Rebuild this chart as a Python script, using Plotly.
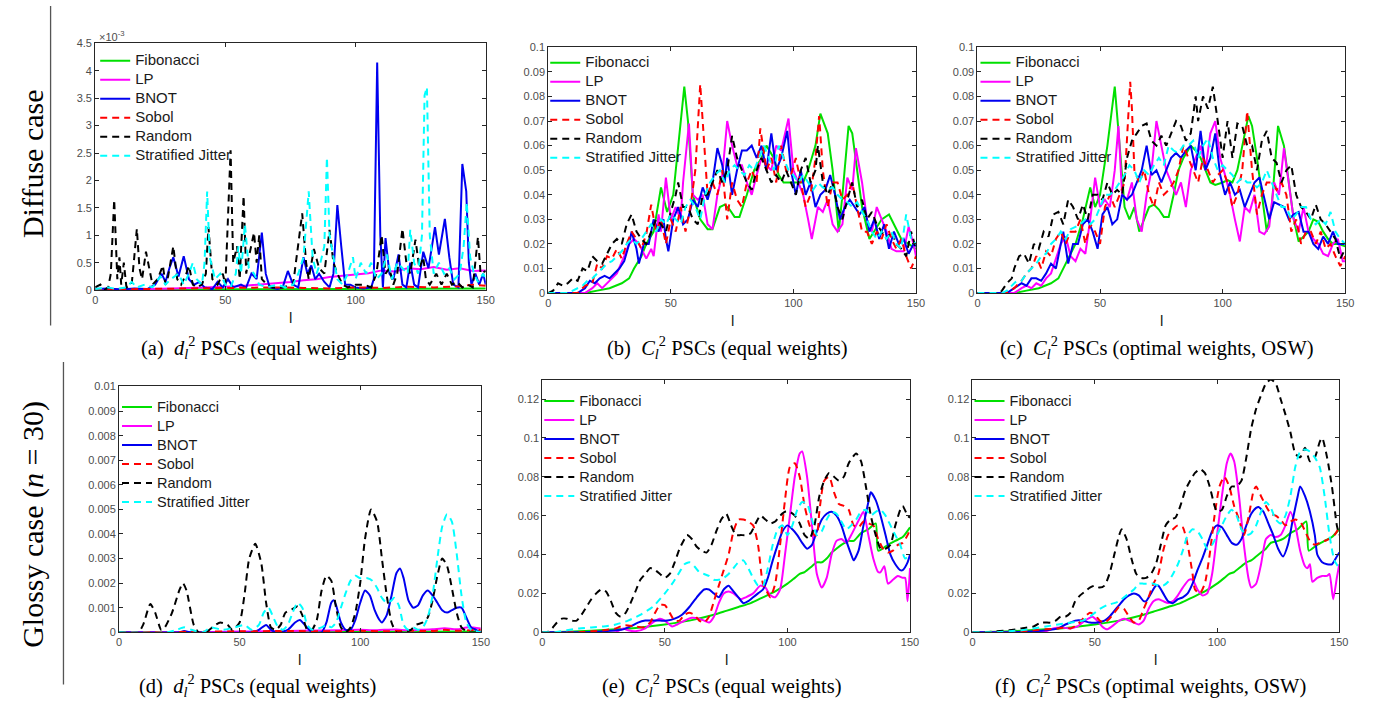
import plotly.graph_objects as go

W, H = 1380, 713

SERIES = ["Fibonacci", "LP", "BNOT", "Sobol", "Random", "Stratified Jitter"]
COLORS = ["#00e000", "#ff00ff", "#0000f0", "#ff0000", "#000000", "#00ffff"]
DASHES = ["solid", "solid", "solid", "7px,5px", "7px,5px", "7px,5px"]

X_TICKS = [0, 50, 100, 150]
A_YTICKS = [0, 0.5, 1, 1.5, 2, 2.5, 3, 3.5, 4, 4.5]
A_YTEXT = ["0", "0.5", "1", "1.5", "2", "2.5", "3", "3.5", "4", "4.5"]
BC_YTICKS = [0, 0.01, 0.02, 0.03, 0.04, 0.05, 0.06, 0.07, 0.08, 0.09, 0.1]
BC_YTEXT = ["0", "0.01", "0.02", "0.03", "0.04", "0.05", "0.06", "0.07", "0.08", "0.09", "0.1"]
D_YTICKS = [0, 0.001, 0.002, 0.003, 0.004, 0.005, 0.006, 0.007, 0.008, 0.009, 0.01]
D_YTEXT = ["0", "0.001", "0.002", "0.003", "0.004", "0.005", "0.006", "0.007", "0.008", "0.009", "0.01"]
EF_YTICKS = [0, 0.02, 0.04, 0.06, 0.08, 0.1, 0.12]
EF_YTEXT = ["0", "0.02", "0.04", "0.06", "0.08", "0.1", "0.12"]

# ---------------- panel (a): d_l^2 diffuse, values in units of 1e-3 ----------------
A_FIB = [(0, 0.01), (20, 0.01), (40, 0.015), (60, 0.015), (80, 0.02), (100, 0.02), (120, 0.025), (140, 0.03), (150, 0.03)]
A_LP = [(0, 0.01), (10, 0.01), (20, 0.02), (30, 0.03), (40, 0.04), (45, 0.05), (50, 0.06), (55, 0.07), (60, 0.09), (65, 0.1),
        (70, 0.13), (75, 0.15), (80, 0.18), (85, 0.2), (90, 0.24), (95, 0.26), (100, 0.28), (105, 0.31), (110, 0.36), (115, 0.34),
        (120, 0.4), (125, 0.38), (130, 0.42), (135, 0.37), (140, 0.4), (145, 0.35), (150, 0.36)]
A_BNOT = [(0, 0.02), (5, 0.03), (10, 0.01), (15, 0.03), (20, 0.02), (23, 0.1), (25.5, 0.3), (27, 0.15), (28.5, 0.4), (30, 0.6),
          (32, 0.25), (34, 0.62), (36, 0.2), (38, 0.1), (40, 0.15), (42, 0.05), (45, 0.02), (47, 0.15), (49, 0.05), (51, 0.2),
          (53, 0.05), (56, 0.1), (58, 0.05), (60, 0.3), (62, 0.2), (64, 1.05), (65.5, 0.3), (67, 0.05), (70, 0.02), (72, 0.05),
          (74, 0.35), (76, 0.1), (78, 0.05), (80, 0.6), (81.5, 0.3), (83, 0.45), (84.5, 0.2), (86, 0.3), (88, 0.15), (90, 0.05),
          (91.5, 0.3), (93, 1.55), (94.5, 0.8), (96, 0.1), (98, 0.1), (100, 0.05), (103, 0.03), (106, 0.05), (107, 0.2),
          (108.3, 4.15), (109.5, 1.0), (110.5, 0.05), (111.5, 0.95), (113, 0.3), (114.5, 0.2), (116.5, 0.65), (118, 0.1),
          (119.5, 0.05), (121, 0.5), (122.5, 0.1), (124, 0.05), (126, 0.7), (128, 0.4), (130.5, 1.15), (132, 0.65),
          (134.3, 1.3), (136, 0.6), (137.5, 0.1), (139.5, 0.05), (141, 2.3), (142.5, 1.8), (143.5, 0.5), (144.5, 0.1),
          (146, 0.3), (147.5, 0.1), (149, 0.3), (150, 0.1)]
A_SOB = [(0, 0.01), (20, 0.02), (40, 0.03), (60, 0.04), (70, 0.05), (80, 0.04), (90, 0.03), (100, 0.05), (110, 0.04),
         (120, 0.06), (130, 0.05), (140, 0.07), (145, 0.1), (150, 0.08)]
A_RND = [(0, 0.05), (2, 0.1), (3.5, 0.0), (5, 0.05), (6, 0.3), (7.3, 1.65), (8.5, 0.2), (9.3, 0.6), (10, 0.1), (11, 0.5),
         (12, 0.05), (14, 0.1), (15, 0.6), (16, 1.12), (17, 0.4), (18, 0.2), (19.5, 0.7), (21, 0.3), (22, 0.1), (24, 0.2),
         (26, 0.45), (27, 0.1), (28, 0.25), (30, 0.8), (31.5, 0.2), (33, 0.1), (35, 0.3), (36, 0.45), (37.5, 0.1), (39, 0.05),
         (41, 0.1), (42.5, 0.3), (43.5, 1.15), (45, 0.2), (47, 0.1), (49, 0.3), (50, 0.1), (52, 2.55), (53, 0.5), (54.5, 0.8),
         (55.5, 0.2), (57, 1.72), (58, 0.3), (59, 0.6), (61, 1.05), (62, 0.5), (63, 1.0), (64, 0.2), (66, 0.1), (68, 0.05),
         (72, 0.05), (76, 0.1), (78, 0.8), (79.5, 1.4), (81, 0.5), (82, 0.2), (84, 0.75), (86, 0.4), (88, 0.3), (90, 1.1),
         (91.5, 0.5), (93, 0.3), (95, 0.1), (97, 0.05), (100, 0.1), (103, 0.1), (106, 0.05), (108, 0.3), (110, 1.0),
         (111.5, 0.3), (113, 0.4), (114.5, 0.1), (116, 0.3), (118, 1.12), (119.5, 0.5), (121, 0.3), (123, 0.92), (124.5, 0.4),
         (126, 0.6), (127, 0.2), (128.5, 0.1), (131, 0.3), (133, 0.1), (135, 0.3), (137, 0.1), (139, 0.15), (141, 0.05),
         (143, 0.1), (145, 0.05), (147, 0.97), (148, 0.3), (150, 0.35)]
A_SJ = [(0, 0.02), (5, 0.05), (8, 0.02), (12, 0.05), (14, 0.15), (16, 0.05), (19, 0.1), (22, 0.05), (25, 0.25), (27, 0.1),
        (29, 0.2), (32, 0.3), (34, 0.1), (36, 0.3), (37.5, 0.5), (39, 0.2), (41, 0.1), (42, 0.5), (43, 1.8), (44, 0.6),
        (46, 0.2), (48, 0.3), (50, 0.1), (52, 0.05), (54, 0.3), (55, 0.8), (56, 0.3), (57.5, 1.2), (59, 0.4), (61, 0.3),
        (63, 0.1), (66, 0.05), (70, 0.1), (73, 0.05), (76, 0.1), (78, 0.3), (80, 0.6), (82, 1.8), (83.5, 0.6), (85, 0.3),
        (86.5, 0.5), (88, 0.8), (89, 2.42), (90, 1.0), (91.5, 0.6), (93, 0.2), (95, 0.1), (97, 0.3), (99, 0.6), (100, 0.2),
        (102, 0.5), (104, 0.3), (106, 0.5), (108, 0.2), (110, 0.3), (112, 0.65), (114, 0.2), (116, 0.5), (118, 0.4),
        (120, 0.3), (121, 1.1), (122.5, 0.5), (124, 0.3), (125.5, 1.0), (126.5, 3.55), (127.4, 3.7), (128.5, 1.0),
        (130, 0.3), (132, 0.5), (134, 0.3), (136, 0.4), (138, 0.2), (140, 0.3), (141.5, 0.8), (142.7, 1.6), (144, 0.6),
        (145.5, 0.3), (147, 0.15), (149, 0.3), (150, 0.2)]

# ---------------- panel (b): C_l^2 diffuse, equal weights ----------------
B_FIB = [(0, 0), (15, 0), (20, 0.001), (25, 0.002), (30, 0.004), (33, 0.006), (35, 0.01), (38, 0.015), (40, 0.02), (43, 0.025),
         (46, 0.043), (48.5, 0.033), (51, 0.04), (53, 0.06), (55.5, 0.084), (57, 0.07), (59, 0.04), (62, 0.03), (65, 0.026),
         (67, 0.026), (70, 0.035), (72, 0.036), (74, 0.034), (76, 0.031), (78, 0.031), (81, 0.04), (84, 0.05), (87, 0.055),
         (89, 0.06), (92, 0.055), (94, 0.048), (96, 0.045), (100, 0.045), (104, 0.045), (106, 0.05), (109, 0.06), (111, 0.073),
         (114, 0.065), (116, 0.05), (118.5, 0.025), (120, 0.04), (122.5, 0.068), (124, 0.065), (126, 0.05), (128, 0.035),
         (131, 0.022), (133, 0.025), (136, 0.03), (139, 0.032), (141, 0.028), (144, 0.022), (147, 0.02), (150, 0.018)]
B_LP = [(0, 0), (15, 0), (18, 0.002), (20, 0.004), (22, 0.002), (25, 0.005), (28, 0.008), (31, 0.015), (33, 0.02), (35, 0.022),
        (37, 0.02), (40, 0.014), (42, 0.018), (43, 0.015), (45, 0.032), (46, 0.025), (48, 0.047), (50, 0.03), (52, 0.035),
        (54, 0.03), (55, 0.045), (57.4, 0.069), (59, 0.04), (61, 0.038), (63, 0.04), (65, 0.028), (67, 0.026), (69, 0.04),
        (71, 0.048), (73, 0.07), (75, 0.06), (77, 0.052), (79, 0.052), (81, 0.045), (83, 0.04), (85, 0.048), (87, 0.055),
        (89, 0.052), (91, 0.05), (93, 0.06), (95, 0.058), (98, 0.071), (100, 0.05), (102, 0.045), (104, 0.04), (106, 0.03),
        (107.5, 0.022), (110, 0.035), (112, 0.033), (114, 0.038), (116, 0.028), (118, 0.025), (120, 0.028), (122, 0.047),
        (124, 0.042), (125.5, 0.059), (128, 0.045), (130, 0.03), (132, 0.025), (134, 0.035), (136, 0.03), (138, 0.025),
        (140, 0.018), (142, 0.017), (145, 0.017), (147, 0.027), (149, 0.02), (150, 0.015)]
B_BNOT = [(0, 0), (12, 0), (15, 0.002), (17, 0.005), (19, 0.004), (21, 0.006), (23, 0.007), (25, 0.006), (27, 0.008), (29, 0.01),
          (31, 0.013), (33, 0.02), (34, 0.025), (36, 0.018), (37, 0.012), (39, 0.02), (41, 0.02), (43, 0.03), (45, 0.025),
          (47, 0.03), (48, 0.022), (49, 0.017), (51, 0.03), (53, 0.035), (55, 0.028), (57, 0.03), (59, 0.038), (61, 0.035),
          (63, 0.043), (65, 0.038), (67, 0.045), (69, 0.059), (71, 0.052), (72, 0.045), (73, 0.055), (75, 0.04), (77, 0.05),
          (79, 0.058), (81, 0.058), (83, 0.06), (85, 0.055), (87, 0.06), (89, 0.05), (91, 0.065), (93, 0.05), (95, 0.055),
          (97.5, 0.066), (99, 0.05), (101, 0.04), (103, 0.05), (105, 0.04), (107, 0.045), (109, 0.035), (111, 0.04),
          (113, 0.042), (115, 0.048), (117, 0.04), (119, 0.03), (121, 0.035), (123, 0.038), (125, 0.035), (127, 0.032),
          (129, 0.035), (131, 0.025), (133, 0.03), (135, 0.022), (137, 0.028), (139, 0.018), (141, 0.025), (143, 0.02),
          (145, 0.022), (147, 0.016), (149, 0.02), (150, 0.019)]
B_SOB = [(0, 0), (12, 0), (15, 0.003), (18, 0.004), (20, 0.012), (22, 0.01), (24, 0.015), (26, 0.014), (28, 0.018), (30, 0.014),
         (32, 0.02), (34, 0.025), (36, 0.022), (38, 0.018), (40, 0.024), (42, 0.036), (44, 0.025), (46, 0.03), (48, 0.02),
         (50, 0.03), (52, 0.025), (54, 0.035), (56, 0.025), (58, 0.035), (60, 0.05), (62, 0.085), (63, 0.07), (65, 0.04),
         (67, 0.045), (69, 0.04), (71, 0.05), (73, 0.03), (75, 0.045), (77, 0.038), (79, 0.035), (81, 0.045), (83, 0.05),
         (85, 0.045), (86.5, 0.067), (89, 0.05), (91, 0.055), (93, 0.045), (95, 0.06), (97, 0.05), (99, 0.048), (101, 0.055),
         (103, 0.045), (105, 0.035), (107, 0.04), (109, 0.055), (110.5, 0.072), (112, 0.05), (114, 0.035), (116, 0.045),
         (118, 0.045), (120, 0.038), (122, 0.04), (124, 0.045), (126, 0.035), (128, 0.025), (130, 0.025), (132, 0.02),
         (134, 0.025), (136, 0.022), (138, 0.028), (140, 0.022), (142, 0.018), (144, 0.022), (146, 0.015), (148, 0.01),
         (150, 0.015)]
B_RND = [(0, 0), (2, 0.001), (4, 0.004), (6, 0.003), (8, 0.004), (10, 0.006), (12, 0.005), (14, 0.01), (16, 0.009), (18, 0.015),
         (20, 0.013), (22, 0.012), (24, 0.016), (26, 0.02), (28, 0.022), (30, 0.02), (32, 0.028), (34, 0.032), (36, 0.025),
         (38, 0.022), (40, 0.02), (42, 0.025), (44, 0.03), (46, 0.028), (48, 0.025), (50, 0.033), (52, 0.04), (53, 0.045),
         (55, 0.035), (57, 0.035), (59, 0.03), (61, 0.028), (63, 0.04), (65, 0.04), (67, 0.045), (69, 0.05), (71, 0.045),
         (73, 0.05), (75, 0.064), (77, 0.055), (79, 0.05), (81, 0.045), (83, 0.042), (85, 0.05), (87, 0.055), (89, 0.05),
         (91, 0.045), (93, 0.048), (95, 0.045), (97, 0.05), (99, 0.045), (101, 0.04), (103, 0.05), (105, 0.055), (107, 0.045),
         (109, 0.05), (110, 0.06), (112, 0.045), (114, 0.04), (116, 0.045), (118, 0.035), (120, 0.03), (122, 0.038),
         (124, 0.045), (126, 0.035), (128, 0.038), (130, 0.03), (132, 0.033), (134, 0.028), (136, 0.025), (138, 0.022),
         (140, 0.025), (142, 0.02), (144, 0.018), (146, 0.015), (148, 0.025), (150, 0.018)]
B_SJ = [(0, 0), (8, 0), (10, 0.001), (12, 0.002), (14, 0.003), (16, 0.005), (18, 0.006), (20, 0.008), (22, 0.01), (24, 0.012),
        (26, 0.013), (28, 0.015), (30, 0.017), (32, 0.02), (34, 0.022), (36, 0.02), (38, 0.022), (40, 0.025), (42, 0.028),
        (44, 0.025), (46, 0.03), (48, 0.028), (50, 0.032), (52, 0.03), (54, 0.028), (56, 0.035), (58, 0.038), (60, 0.035),
        (62, 0.03), (64, 0.04), (66, 0.045), (68, 0.048), (70, 0.05), (72, 0.045), (74, 0.05), (76, 0.052), (78, 0.05),
        (80, 0.048), (82, 0.052), (84, 0.05), (86, 0.055), (88, 0.06), (90, 0.055), (92, 0.05), (94, 0.06), (96, 0.055),
        (98, 0.05), (100, 0.048), (102, 0.045), (104, 0.048), (106, 0.045), (108, 0.042), (110, 0.045), (112, 0.043),
        (114, 0.042), (116, 0.043), (118, 0.04), (120, 0.038), (122, 0.037), (124, 0.035), (126, 0.037), (128, 0.033),
        (130, 0.03), (132, 0.025), (134, 0.022), (136, 0.025), (138, 0.022), (140, 0.025), (142, 0.02), (144, 0.018),
        (146, 0.032), (148, 0.022), (150, 0.02)]

# ---------------- panel (c): C_l^2 diffuse, optimal weights ----------------
C_FIB = [(0, 0), (15, 0), (20, 0.001), (25, 0.002), (30, 0.004), (33, 0.006), (36, 0.012), (40, 0.02), (43, 0.03), (46, 0.043),
         (48, 0.035), (50, 0.04), (53, 0.06), (56, 0.084), (58, 0.06), (60, 0.035), (62, 0.03), (64, 0.035), (66, 0.025),
         (68, 0.03), (70, 0.035), (72, 0.036), (74, 0.034), (76, 0.031), (78, 0.031), (80, 0.04), (82, 0.05), (84, 0.055),
         (87, 0.06), (89, 0.058), (91, 0.055), (93, 0.05), (95, 0.045), (97, 0.044), (100, 0.045), (102, 0.046), (104, 0.045),
         (106, 0.05), (108, 0.06), (110.5, 0.072), (112, 0.068), (114, 0.055), (116, 0.04), (118, 0.025), (120, 0.035),
         (122.6, 0.068), (125, 0.06), (127, 0.045), (129, 0.03), (131, 0.021), (133, 0.023), (135, 0.025), (137, 0.03),
         (139, 0.029), (141, 0.025), (143, 0.022), (145, 0.02), (147, 0.02), (150, 0.019)]
C_LP = [(0, 0), (15, 0), (18, 0.002), (20, 0.003), (22, 0.002), (24, 0.004), (26, 0.003), (28, 0.006), (30, 0.008), (32, 0.014),
        (34, 0.02), (36, 0.023), (38, 0.015), (40, 0.013), (42, 0.018), (44, 0.016), (46, 0.03), (48, 0.047), (50, 0.035),
        (52, 0.038), (54, 0.035), (56, 0.05), (57.5, 0.068), (59, 0.04), (61, 0.038), (63, 0.045), (65, 0.03), (67, 0.025),
        (69, 0.04), (71, 0.05), (73, 0.07), (75, 0.06), (77, 0.05), (79, 0.045), (81, 0.04), (83, 0.045), (85, 0.035),
        (87, 0.05), (89, 0.055), (91, 0.06), (93, 0.05), (95, 0.065), (97, 0.07), (99, 0.055), (101, 0.048), (103, 0.04),
        (105, 0.03), (107, 0.021), (109, 0.035), (111, 0.033), (113, 0.04), (115, 0.025), (117, 0.024), (119, 0.027),
        (121, 0.045), (123, 0.04), (125, 0.059), (127, 0.045), (129, 0.03), (131, 0.025), (133, 0.035), (135, 0.025),
        (137, 0.022), (139, 0.02), (141, 0.016), (143, 0.015), (145, 0.02), (147, 0.022), (149, 0.013), (150, 0.013)]
C_BNOT = [(0, 0), (12, 0), (15, 0.002), (18, 0.004), (20, 0.003), (22, 0.006), (24, 0.006), (26, 0.005), (28, 0.008), (30, 0.012),
          (32, 0.01), (34, 0.02), (35, 0.025), (37, 0.012), (39, 0.02), (41, 0.02), (43, 0.028), (45, 0.03), (47, 0.025),
          (49, 0.018), (51, 0.032), (53, 0.035), (55, 0.028), (57, 0.03), (59, 0.04), (61, 0.038), (63, 0.04), (65, 0.045),
          (67, 0.05), (69, 0.06), (71, 0.048), (73, 0.05), (75, 0.045), (77, 0.05), (79, 0.055), (81, 0.057), (83, 0.055),
          (85, 0.058), (87, 0.06), (89, 0.05), (91, 0.066), (93, 0.05), (95, 0.055), (97, 0.065), (99, 0.048), (101, 0.04),
          (103, 0.045), (105, 0.04), (107, 0.042), (109, 0.035), (111, 0.04), (113, 0.045), (115, 0.047), (117, 0.038),
          (119, 0.03), (121, 0.037), (123, 0.036), (125, 0.035), (127, 0.03), (129, 0.032), (131, 0.033), (133, 0.025),
          (135, 0.025), (137, 0.02), (139, 0.018), (141, 0.023), (143, 0.02), (145, 0.025), (147, 0.02), (150, 0.02)]
C_SOB = [(0, 0), (12, 0), (15, 0.002), (18, 0.005), (20, 0.008), (22, 0.01), (24, 0.015), (26, 0.01), (28, 0.017), (30, 0.015),
         (32, 0.022), (34, 0.025), (36, 0.02), (38, 0.025), (40, 0.025), (42, 0.03), (44, 0.02), (46, 0.028), (48, 0.025),
         (50, 0.02), (52, 0.035), (54, 0.04), (56, 0.035), (58, 0.04), (60, 0.045), (62.3, 0.086), (63, 0.075), (64, 0.05),
         (66, 0.045), (68, 0.05), (70, 0.04), (72, 0.035), (74, 0.045), (76, 0.04), (78, 0.042), (80, 0.045), (82, 0.05),
         (84, 0.06), (86, 0.055), (88, 0.05), (90, 0.045), (92, 0.055), (94, 0.05), (96, 0.045), (98, 0.048), (100, 0.05),
         (102, 0.045), (104, 0.035), (106, 0.04), (108, 0.05), (110, 0.074), (112, 0.05), (114, 0.032), (116, 0.04),
         (118, 0.045), (120, 0.045), (122, 0.042), (124, 0.045), (126, 0.04), (128, 0.025), (130, 0.03), (132, 0.02),
         (134, 0.025), (136, 0.025), (138, 0.02), (140, 0.025), (142, 0.018), (144, 0.02), (146, 0.015), (148, 0.011),
         (150, 0.015)]
C_RND = [(0, 0), (9, 0), (10, 0.001), (12, 0.004), (14, 0.006), (15, 0.01), (17, 0.015), (19, 0.016), (21, 0.012), (23, 0.02),
         (25, 0.018), (27, 0.025), (29, 0.023), (31, 0.032), (33, 0.033), (35, 0.028), (37, 0.038), (39, 0.035), (41, 0.03),
         (43, 0.036), (45, 0.03), (47, 0.04), (49, 0.04), (51, 0.038), (53, 0.045), (55, 0.04), (57, 0.042), (59, 0.04),
         (61, 0.055), (63, 0.062), (65, 0.065), (67, 0.068), (69, 0.069), (71, 0.062), (73, 0.06), (75, 0.064), (77, 0.06),
         (79, 0.065), (81, 0.07), (83, 0.068), (85, 0.062), (87, 0.065), (89, 0.08), (90, 0.07), (92, 0.08), (94, 0.075),
         (96, 0.084), (98, 0.07), (100, 0.055), (102, 0.07), (104, 0.055), (106, 0.069), (108, 0.068), (110, 0.06),
         (112, 0.06), (114, 0.05), (116, 0.062), (118, 0.066), (120, 0.055), (122, 0.053), (124, 0.045), (126, 0.05),
         (128, 0.052), (130, 0.04), (132, 0.035), (134, 0.033), (136, 0.03), (138, 0.036), (140, 0.03), (142, 0.028),
         (144, 0.025), (146, 0.022), (148, 0.014), (150, 0.018)]
C_SJ = [(0, 0), (10, 0), (12, 0.001), (14, 0.003), (16, 0.005), (18, 0.005), (20, 0.008), (22, 0.01), (24, 0.012), (26, 0.015),
        (28, 0.016), (30, 0.02), (32, 0.022), (34, 0.025), (36, 0.022), (38, 0.026), (40, 0.027), (42, 0.028), (44, 0.03),
        (46, 0.028), (48, 0.03), (50, 0.035), (52, 0.04), (54, 0.04), (56, 0.042), (58, 0.045), (60, 0.048), (62, 0.052),
        (64, 0.05), (66, 0.045), (68, 0.05), (70, 0.048), (72, 0.052), (74, 0.055), (76, 0.052), (78, 0.06), (80, 0.058),
        (82, 0.057), (84, 0.06), (86, 0.06), (88, 0.062), (90, 0.055), (92, 0.06), (94, 0.063), (96, 0.055), (98, 0.05),
        (100, 0.052), (102, 0.05), (104, 0.048), (106, 0.045), (108, 0.047), (110, 0.045), (112, 0.045), (114, 0.043),
        (116, 0.045), (118, 0.05), (120, 0.045), (122, 0.04), (124, 0.035), (126, 0.035), (128, 0.03), (130, 0.032),
        (132, 0.035), (134, 0.035), (136, 0.03), (138, 0.028), (140, 0.03), (142, 0.028), (144, 0.033), (146, 0.025),
        (148, 0.022), (150, 0.02)]

# ---------------- panel (d): d_l^2 glossy ----------------
D_FIB = [(0, 0), (50, 0.00001), (100, 0.00002), (150, 0.00003)]
D_LP = [(0, 0), (40, 0.00001), (50, 0.00003), (60, 0.00004), (70, 0.00005), (80, 0.00007), (90, 0.00008), (100, 0.0001),
        (105, 0.00008), (110, 0.0001), (115, 0.00011), (120, 0.00008), (125, 0.0001), (130, 0.00012), (135, 0.00016),
        (140, 0.00012), (145, 0.0002), (150, 0.00015)]
D_BNOT = [(0, 0), (25, 0), (27, 0.00005), (30, 0), (55, 0), (58, 0.0001), (61, 0.0003), (63, 0.0001), (66, 0), (70, 0.0001),
          (73, 0.0004), (75, 0.0005), (77, 0.0003), (80, 0), (84, 0), (86, 0.0004), (88, 0.0012), (89, 0.0013), (90, 0.0011),
          (92, 0.0004), (94, 0.0001), (96, 0.0001), (98, 0.0005), (100, 0.0012), (102, 0.0017), (104, 0.0015), (106, 0.0009),
          (108, 0.0005), (109, 0.0004), (111, 0.0007), (113, 0.0015), (115, 0.0024), (116.5, 0.0026), (118, 0.0022),
          (120, 0.0013), (122, 0.001), (124, 0.0011), (126, 0.0015), (128, 0.0017), (130, 0.0015), (132, 0.0012),
          (134, 0.0009), (136, 0.0008), (138, 0.0009), (140, 0.001), (142, 0.001), (144, 0.0006), (146, 0.0002),
          (148, 0.0001), (150, 0)]
D_SOB = [(0, 0), (30, 0.00002), (50, 0.00004), (70, 0.00005), (90, 0.00004), (100, 0.00006), (110, 0.00004), (120, 0.00006),
         (130, 0.00005), (135, 0.0001), (140, 0.00006), (145, 0.00008), (150, 0.0001)]
D_RND = [(0, 0), (8, 0), (10, 0.0003), (13, 0.00115), (15, 0.0008), (17.5, 0.0001), (19, 0.0002), (22, 0.0008), (25, 0.0017),
         (26.5, 0.002), (28, 0.0017), (31, 0.0003), (33, 0), (36, 0), (40, 0.0003), (42, 0.0004), (45, 0.0003), (47, 0.0001),
         (50, 0.0004), (52, 0.0015), (54, 0.003), (56.5, 0.0036), (59, 0.0028), (61, 0.0012), (63, 0.0002), (65, 0.0001),
         (67, 0.0003), (69, 0.0008), (72, 0.00095), (74, 0.00105), (76, 0.0007), (78, 0.0001), (80, 0.0001), (82, 0.0005),
         (84, 0.0017), (86, 0.0023), (88, 0.0021), (90, 0.001), (92, 0.0002), (94, 0), (96, 0.0002), (98, 0.0008),
         (100, 0.002), (102, 0.0038), (104.5, 0.005), (107, 0.0045), (109, 0.003), (111, 0.0015), (113, 0.0004), (115, 0),
         (118, 0), (121, 0.0001), (123, 0.0003), (126, 0.0004), (128, 0.0006), (130, 0.0013), (132, 0.0023), (134, 0.003),
         (136, 0.0027), (138, 0.0018), (140, 0.0008), (142, 0.0002), (145, 0), (150, 0)]
D_SJ = [(0, 0), (20, 0), (24, 0.0001), (27, 0.0002), (30, 0.0001), (35, 0), (38, 0.0002), (43, 0.0001), (48, 0.0002),
        (52, 0.0003), (55, 0.0001), (58, 0.0003), (60, 0.0008), (62, 0.001), (64, 0.0006), (66, 0.0002), (68, 0.0001),
        (70, 0.0003), (72, 0.0008), (74, 0.0012), (76, 0.001), (78, 0.0003), (80, 0.0001), (84, 0.0002), (86, 0.0003),
        (88, 0.0002), (90, 0.0004), (92, 0.001), (94, 0.0016), (96, 0.0021), (98, 0.0023), (100, 0.0022), (103, 0.0022),
        (105, 0.0021), (107, 0.0018), (109, 0.0014), (111, 0.0012), (113, 0.0013), (114, 0.0014), (116, 0.0011),
        (118, 0.0003), (120, 0.0001), (122, 0.0002), (124, 0.0001), (126, 0.0002), (128, 0.0006), (130, 0.0015),
        (132, 0.003), (134, 0.0043), (136, 0.0048), (138, 0.0045), (140, 0.0032), (142, 0.0015), (144, 0.0004),
        (146, 0.0001), (150, 0)]

# ---------------- panel (e): C_l^2 glossy, equal weights ----------------
E_FIB = [(0, 0), (10, 0.0003), (20, 0.0008), (30, 0.0015), (40, 0.0025), (50, 0.004), (60, 0.006), (70, 0.009), (75, 0.011),
         (80, 0.013), (85, 0.015), (90, 0.018), (95, 0.021), (100, 0.025), (103, 0.028), (105, 0.03), (107, 0.031),
         (110, 0.034), (112, 0.036), (114, 0.036), (116, 0.038), (118, 0.041), (120, 0.043), (122, 0.045), (125, 0.047),
         (127, 0.047), (130, 0.051), (133, 0.053), (136, 0.056), (137, 0.042), (141, 0.045), (144, 0.047), (147, 0.049),
         (150, 0.054)]
E_LP = [(0, 0), (30, 0), (33, 0.002), (35, 0.001), (38, 0.0005), (42, 0.002), (45, 0.005), (48, 0.007), (50, 0.006),
        (53, 0.003), (55, 0.004), (58, 0.006), (61, 0.0075), (64, 0.007), (66, 0.006), (68, 0.005), (70, 0.008), (72, 0.015),
        (74, 0.02), (76, 0.021), (78, 0.02), (81, 0.017), (83, 0.018), (86, 0.02), (89, 0.024), (91, 0.023), (93, 0.019),
        (95, 0.018), (97, 0.022), (99, 0.04), (101, 0.06), (103, 0.08), (105, 0.092), (106, 0.093), (108, 0.08), (110, 0.055),
        (112, 0.03), (114, 0.023), (116, 0.028), (118, 0.04), (120, 0.047), (122, 0.048), (124, 0.046), (126, 0.05),
        (128, 0.055), (130, 0.06), (131, 0.062), (133, 0.05), (135, 0.038), (137, 0.031), (138, 0.031), (139.5, 0.034),
        (141, 0.025), (143, 0.027), (145, 0.029), (147, 0.028), (148, 0.028), (149, 0.016), (150, 0.033)]
E_BNOT = [(0, 0), (15, 0), (20, 0.0002), (25, 0.0005), (30, 0.001), (33, 0.0015), (36, 0.003), (39, 0.005), (42, 0.006),
          (45, 0.006), (48, 0.006), (51, 0.006), (54, 0.007), (57, 0.009), (60, 0.013), (63, 0.018), (66, 0.022), (68, 0.022),
          (70, 0.02), (72, 0.018), (74, 0.022), (76, 0.024), (78, 0.021), (80, 0.018), (82, 0.015), (84, 0.016), (86, 0.018),
          (88, 0.02), (90, 0.022), (92, 0.028), (94, 0.037), (96, 0.045), (98, 0.052), (100, 0.055), (102, 0.053),
          (104, 0.05), (106, 0.046), (108, 0.043), (110, 0.045), (112, 0.052), (114, 0.058), (116, 0.061), (118, 0.062),
          (120, 0.06), (122, 0.055), (124, 0.047), (126, 0.04), (127, 0.037), (129, 0.042), (131, 0.055), (133, 0.067),
          (134, 0.072), (136, 0.068), (138, 0.06), (140, 0.05), (142, 0.04), (144, 0.035), (146, 0.032), (147, 0.032),
          (149, 0.036), (150, 0.04)]
E_SOB = [(0, 0), (15, 0), (20, 0.0005), (25, 0.001), (30, 0.002), (33, 0.0035), (35, 0.0035), (38, 0.003), (41, 0.0025),
         (44, 0.005), (46, 0.01), (48, 0.014), (50, 0.014), (52, 0.01), (54, 0.006), (56, 0.006), (58, 0.009), (60, 0.01),
         (62, 0.009), (64, 0.006), (66, 0.005), (68, 0.008), (70, 0.016), (72, 0.024), (74, 0.032), (76, 0.04), (78, 0.052),
         (80, 0.058), (82, 0.058), (84, 0.057), (86, 0.055), (88, 0.045), (90, 0.025), (92, 0.02), (93, 0.018), (95, 0.025),
         (97, 0.045), (99, 0.068), (101, 0.085), (103, 0.087), (105, 0.08), (107, 0.065), (109, 0.055), (111, 0.05),
         (112, 0.05), (113, 0.062), (115, 0.078), (117, 0.08), (119, 0.072), (121, 0.066), (123, 0.065), (125, 0.063),
         (127, 0.055), (129, 0.054), (131, 0.057), (133, 0.056), (135, 0.055), (137, 0.048), (139, 0.043), (141, 0.041),
         (143, 0.042), (145, 0.045), (147, 0.046), (149, 0.05), (150, 0.053)]
E_RND = [(0, 0), (2, 0), (4, 0.002), (6, 0.005), (8, 0.007), (10, 0.007), (12, 0.006), (14, 0.006), (16, 0.009), (18, 0.013),
         (20, 0.017), (22, 0.02), (24, 0.022), (26, 0.021), (28, 0.016), (30, 0.01), (32, 0.008), (34, 0.01), (36, 0.015),
         (38, 0.021), (40, 0.027), (42, 0.03), (44, 0.033), (46, 0.032), (48, 0.03), (50, 0.028), (52, 0.03), (54, 0.036),
         (56, 0.043), (58, 0.048), (59, 0.05), (61, 0.048), (63, 0.044), (65, 0.042), (67, 0.041), (69, 0.045), (71, 0.052),
         (73, 0.058), (75, 0.061), (77, 0.055), (79, 0.05), (81, 0.05), (83, 0.05), (85, 0.051), (87, 0.056), (89, 0.06),
         (91, 0.058), (93, 0.056), (95, 0.057), (97, 0.06), (99, 0.062), (101, 0.062), (103, 0.06), (105, 0.056),
         (107, 0.05), (109, 0.048), (111, 0.055), (113, 0.07), (115, 0.078), (117, 0.082), (119, 0.08), (121, 0.078),
         (123, 0.08), (125, 0.087), (128, 0.092), (130, 0.088), (132, 0.075), (134, 0.06), (136, 0.05), (138, 0.043),
         (140, 0.043), (142, 0.045), (144, 0.055), (146, 0.063), (147, 0.065), (149, 0.06), (150, 0.059)]
E_SJ = [(0, 0), (5, 0), (10, 0.001), (15, 0.002), (20, 0.0025), (25, 0.003), (30, 0.004), (35, 0.006), (40, 0.009),
        (45, 0.013), (50, 0.02), (53, 0.025), (56, 0.031), (58, 0.035), (60, 0.036), (62, 0.034), (64, 0.031), (66, 0.03),
        (68, 0.029), (70, 0.027), (72, 0.027), (74, 0.028), (76, 0.03), (78, 0.033), (80, 0.036), (82, 0.037), (84, 0.033),
        (86, 0.028), (88, 0.024), (90, 0.024), (92, 0.033), (94, 0.045), (96, 0.053), (98, 0.055), (100, 0.05),
        (102, 0.055), (104, 0.063), (106, 0.067), (108, 0.066), (110, 0.058), (112, 0.05), (114, 0.052), (116, 0.058),
        (118, 0.062), (120, 0.061), (122, 0.057), (124, 0.053), (126, 0.055), (128, 0.058), (130, 0.062), (132, 0.063),
        (134, 0.06), (136, 0.062), (138, 0.063), (140, 0.06), (142, 0.055), (144, 0.05), (146, 0.045), (148, 0.038),
        (150, 0.04)]

# ---------------- panel (f): C_l^2 glossy, optimal weights ----------------
F_FIB = [(0, 0), (10, 0.0003), (20, 0.0008), (30, 0.0015), (40, 0.0025), (50, 0.004), (60, 0.006), (70, 0.009), (75, 0.011),
         (80, 0.013), (85, 0.015), (90, 0.018), (95, 0.021), (100, 0.025), (103, 0.028), (105, 0.03), (107, 0.031),
         (110, 0.034), (112, 0.036), (114, 0.037), (116, 0.039), (118, 0.041), (120, 0.043), (122, 0.046), (125, 0.047),
         (127, 0.048), (130, 0.051), (133, 0.053), (136.5, 0.057), (137.5, 0.042), (141, 0.045), (144, 0.047), (147, 0.049),
         (150, 0.053)]
F_LP = [(0, 0), (25, 0), (30, 0.0005), (33, 0.002), (36, 0.0025), (40, 0.002), (43, 0.003), (46, 0.006), (49, 0.008),
        (51, 0.006), (53, 0.003), (55, 0.0015), (57, 0.003), (60, 0.006), (62, 0.007), (64, 0.006), (66, 0.005), (68, 0.004),
        (70, 0.006), (72, 0.012), (74, 0.016), (76, 0.017), (78, 0.016), (80, 0.015), (82, 0.016), (84, 0.019), (86, 0.023),
        (88.5, 0.027), (90, 0.027), (92, 0.022), (94, 0.019), (96, 0.02), (98, 0.03), (100, 0.05), (102, 0.07), (104, 0.087),
        (105.5, 0.092), (107, 0.088), (109, 0.07), (111, 0.045), (113, 0.027), (114, 0.023), (116, 0.025), (118, 0.035),
        (120, 0.048), (122, 0.05), (124, 0.049), (126, 0.05), (128, 0.055), (130, 0.062), (132, 0.055), (134, 0.042),
        (136, 0.034), (137, 0.033), (138, 0.035), (139, 0.026), (141, 0.028), (143, 0.029), (145, 0.029), (146, 0.03),
        (147.5, 0.017), (149, 0.028), (150, 0.035)]
F_BNOT = [(0, 0), (15, 0), (20, 0.0002), (25, 0.0005), (30, 0.001), (35, 0.002), (38, 0.004), (40, 0.005), (42, 0.006),
          (45, 0.006), (48, 0.005), (51, 0.005), (54, 0.006), (56, 0.008), (58, 0.011), (60, 0.014), (62, 0.017), (64, 0.019),
          (66, 0.02), (68, 0.019), (70, 0.016), (71, 0.016), (73, 0.02), (75, 0.024), (76, 0.024), (78, 0.02), (80, 0.016),
          (82, 0.015), (84, 0.017), (86, 0.018), (88, 0.02), (90, 0.025), (92, 0.032), (94, 0.038), (96, 0.045), (98, 0.052),
          (100, 0.055), (102, 0.054), (104, 0.05), (106, 0.046), (108, 0.045), (110, 0.048), (112, 0.055), (114, 0.061),
          (116, 0.064), (117, 0.0645), (119, 0.062), (121, 0.056), (123, 0.05), (125, 0.043), (127, 0.039), (129, 0.045),
          (131, 0.058), (133, 0.07), (134, 0.075), (136, 0.07), (138, 0.062), (140, 0.05), (141, 0.04), (143, 0.036),
          (145, 0.035), (147, 0.035), (149, 0.039), (150, 0.041)]
F_SOB = [(0, 0), (15, 0), (20, 0.0005), (25, 0.001), (30, 0.0015), (35, 0.002), (38, 0.0025), (40, 0.002), (43, 0.004),
         (46, 0.008), (48, 0.01), (50, 0.009), (52, 0.006), (54, 0.005), (56, 0.007), (58, 0.01), (60, 0.013), (62, 0.012),
         (64, 0.008), (66, 0.005), (68, 0.006), (70, 0.012), (72, 0.018), (74, 0.025), (76, 0.03), (78, 0.042), (80, 0.05),
         (82, 0.053), (84, 0.055), (86, 0.054), (88, 0.045), (90, 0.03), (91, 0.022), (93, 0.02), (95, 0.025), (97, 0.04),
         (99, 0.06), (101, 0.075), (103, 0.08), (105, 0.075), (107, 0.065), (109, 0.058), (111, 0.05), (113, 0.06),
         (115, 0.073), (116, 0.075), (118, 0.07), (120, 0.065), (122, 0.061), (124, 0.06), (126, 0.058), (128, 0.055),
         (130, 0.057), (132, 0.058), (134, 0.057), (136, 0.052), (138, 0.047), (140, 0.045), (142, 0.046), (144, 0.047),
         (146, 0.048), (148, 0.05), (150, 0.054)]
F_RND = [(0, 0), (5, 0), (10, 0.0005), (15, 0.001), (20, 0.002), (25, 0.003), (28, 0.005), (30, 0.005), (32, 0.005), (34, 0.006),
         (36, 0.008), (38, 0.008), (40, 0.01), (42, 0.016), (44, 0.019), (46, 0.021), (48, 0.023), (50, 0.024), (52, 0.023),
         (54, 0.024), (56, 0.03), (58, 0.04), (60, 0.05), (61, 0.053), (63, 0.048), (65, 0.038), (67, 0.03), (69, 0.028),
         (71, 0.028), (73, 0.03), (75, 0.035), (77, 0.045), (79, 0.055), (81, 0.058), (83, 0.059), (85, 0.065), (87, 0.073),
         (89, 0.078), (91, 0.082), (93, 0.084), (95, 0.082), (97, 0.075), (99, 0.065), (100, 0.062), (102, 0.063),
         (104, 0.07), (106, 0.075), (108, 0.075), (110, 0.078), (112, 0.09), (114, 0.105), (116, 0.115), (118, 0.122),
         (120, 0.128), (122, 0.13), (124, 0.128), (126, 0.12), (128, 0.112), (130, 0.103), (132, 0.092), (134, 0.09),
         (136, 0.095), (138, 0.088), (140, 0.09), (142, 0.098), (143, 0.1), (145, 0.09), (147, 0.075), (149, 0.055),
         (150, 0.05)]
F_SJ = [(0, 0), (10, 0), (15, 0.0005), (20, 0.001), (25, 0.002), (30, 0.003), (35, 0.004), (40, 0.005), (45, 0.006),
        (48, 0.008), (50, 0.01), (52, 0.012), (55, 0.014), (58, 0.015), (60, 0.016), (62, 0.018), (64, 0.02), (66, 0.022),
        (68, 0.025), (70, 0.025), (72, 0.025), (74, 0.025), (76, 0.024), (78, 0.024), (80, 0.026), (82, 0.03), (84, 0.035),
        (86, 0.042), (88, 0.05), (90, 0.053), (92, 0.052), (94, 0.048), (96, 0.043), (98, 0.045), (100, 0.05), (102, 0.055),
        (104, 0.06), (106, 0.063), (108, 0.06), (110, 0.053), (112, 0.05), (114, 0.051), (116, 0.055), (118, 0.062),
        (120, 0.067), (122, 0.064), (124, 0.058), (126, 0.056), (128, 0.06), (130, 0.07), (132, 0.085), (134, 0.093),
        (136, 0.094), (138, 0.093), (140, 0.09), (142, 0.085), (144, 0.07), (146, 0.05), (148, 0.037), (150, 0.033)]

PANELS = [
    dict(data=[A_FIB, A_LP, A_BNOT, A_SOB, A_RND, A_SJ], box=(93, 38, 487, 289), yr=[0, 4.5],
         yt=A_YTICKS, ytt=A_YTEXT, shape="linear",
         cap="(a)  <i>d</i><sub><i>l</i></sub><sup>2</sup> PSCs (equal weights)", capx=258, capy=347,
         leg=(133, 54), legsize=15),
    dict(data=[B_FIB, B_LP, B_BNOT, B_SOB, B_RND, B_SJ], box=(550, 42, 921, 292), yr=[0, 0.1],
         yt=BC_YTICKS, ytt=BC_YTEXT, shape="linear",
         cap="(b)  <i>C</i><sub><i>l</i></sub><sup>2</sup> PSCs (equal weights)", capx=731, capy=347,
         leg=(587, 56), legsize=15),
    dict(data=[C_FIB, C_LP, C_BNOT, C_SOB, C_RND, C_SJ], box=(983, 42, 1354, 292), yr=[0, 0.1],
         yt=BC_YTICKS, ytt=BC_YTEXT, shape="linear",
         cap="(c)  <i>C</i><sub><i>l</i></sub><sup>2</sup> PSCs (optimal weights, OSW)", capx=1164, capy=347,
         leg=(1021, 56), legsize=15),
    dict(data=[D_FIB, D_LP, D_BNOT, D_SOB, D_RND, D_SJ], box=(117, 387, 482, 637), yr=[0, 0.01],
         yt=D_YTICKS, ytt=D_YTEXT, shape="spline",
         cap="(d)  <i>d</i><sub><i>l</i></sub><sup>2</sup> PSCs (equal weights)", capx=257, capy=691,
         leg=(155, 406), legsize=14.5),
    dict(data=[E_FIB, E_LP, E_BNOT, E_SOB, E_RND, E_SJ], box=(544, 380, 915, 637), yr=[0, 0.13],
         yt=EF_YTICKS, ytt=EF_YTEXT, shape="spline",
         cap="(e)  <i>C</i><sub><i>l</i></sub><sup>2</sup> PSCs (equal weights)", capx=725, capy=691,
         leg=(581, 400), legsize=14.5),
    dict(data=[F_FIB, F_LP, F_BNOT, F_SOB, F_RND, F_SJ], box=(978, 380, 1348, 637), yr=[0, 0.13],
         yt=EF_YTICKS, ytt=EF_YTEXT, shape="spline",
         cap="(f)  <i>C</i><sub><i>l</i></sub><sup>2</sup> PSCs (optimal weights, OSW)", capx=1158, capy=691,
         leg=(1015, 400), legsize=14.5),
]


def fx(px):
    return px / W


def fy(py):
    return 1 - py / H


AXC = "#262626"
TICKFONT = dict(family="Liberation Sans", size=11, color="#4d4d4d")

fig = go.Figure()
layout = {}
annotations = []
for i, p in enumerate(PANELS, start=1):
    sfx = "" if i == 1 else str(i)
    left, top, right, bottom = p["box"]
    common = dict(ticks="inside", ticklen=4, tickcolor=AXC, showline=True, linecolor=AXC, linewidth=1,
                  mirror="allticks", showgrid=False, zeroline=False, tickfont=TICKFONT, fixedrange=True)
    layout["xaxis" + sfx] = dict(domain=[fx(left), fx(right)], range=[0, 150], tickvals=X_TICKS,
                                 anchor="y" + sfx, **common)
    layout["yaxis" + sfx] = dict(domain=[fy(bottom), fy(top)], range=p["yr"], tickvals=p["yt"], ticktext=p["ytt"],
                                 anchor="x" + sfx, **common)
    legname = "legend" + sfx
    tx, ty = p["leg"]
    layout[legname] = dict(x=fx(tx - 40), y=fy(ty - 13), xanchor="left", yanchor="top",
                           bgcolor="rgba(0,0,0,0)", borderwidth=0, tracegroupgap=0,
                           font=dict(family="Liberation Sans", size=12, color="#1a1a1a"))
    for name, col, dash, pts in zip(SERIES, COLORS, DASHES, p["data"]):
        label = '<span style="font-size:%spx">%s</span>' % (p["legsize"], name)
        fig.add_trace(go.Scatter(
            x=[q[0] for q in pts], y=[q[1] for q in pts], mode="lines", name=label,
            line=dict(color=col, width=2, dash=dash, shape=p["shape"], smoothing=0.6),
            xaxis="x" + sfx, yaxis="y" + sfx, legend=legname, showlegend=True, hoverinfo="skip"))
    annotations.append(dict(x=fx(p["capx"]), y=fy(p["capy"]), xref="paper", yref="paper", text=p["cap"],
                            showarrow=False, xanchor="center", yanchor="middle",
                            font=dict(family="Liberation Serif", size=20.5, color="#000")))
    annotations.append(dict(x=fx((left + right) / 2), y=fy(bottom + 28), xref="paper", yref="paper", text="l",
                            showarrow=False, xanchor="center", yanchor="middle",
                            font=dict(family="Liberation Sans", size=15, color="#1a1a1a")))

annotations.append(dict(x=fx(95), y=fy(31), xref="paper", yref="paper", text="×10<sup>-3</sup>", showarrow=False,
                        xanchor="left", yanchor="middle", font=dict(family="Liberation Sans", size=11, color="#4d4d4d")))
annotations.append(dict(x=fx(30), y=fy(160), xref="paper", yref="paper", text="Diffuse case", textangle=-90,
                        showarrow=False, xanchor="center", yanchor="middle",
                        font=dict(family="Liberation Serif", size=30, color="#000")))
annotations.append(dict(x=fx(30), y=fy(527), xref="paper", yref="paper", text="Glossy case (<i>n</i> = 30)",
                        textangle=-90, showarrow=False, xanchor="center", yanchor="middle",
                        font=dict(family="Liberation Serif", size=30, color="#000")))

shapes = [
    dict(type="line", xref="paper", yref="paper", x0=fx(48), x1=fx(48), y0=fy(0), y1=fy(325),
         line=dict(color="#555", width=1.3)),
    dict(type="line", xref="paper", yref="paper", x0=fx(61), x1=fx(61), y0=fy(362), y1=fy(690),
         line=dict(color="#555", width=1.3)),
]

fig.update_layout(width=W, height=H, margin=dict(l=0, r=0, t=0, b=0), paper_bgcolor="white", plot_bgcolor="white",
                  annotations=annotations, shapes=shapes, **layout)
fig.write_html("out.html", config={"displayModeBar": False})
